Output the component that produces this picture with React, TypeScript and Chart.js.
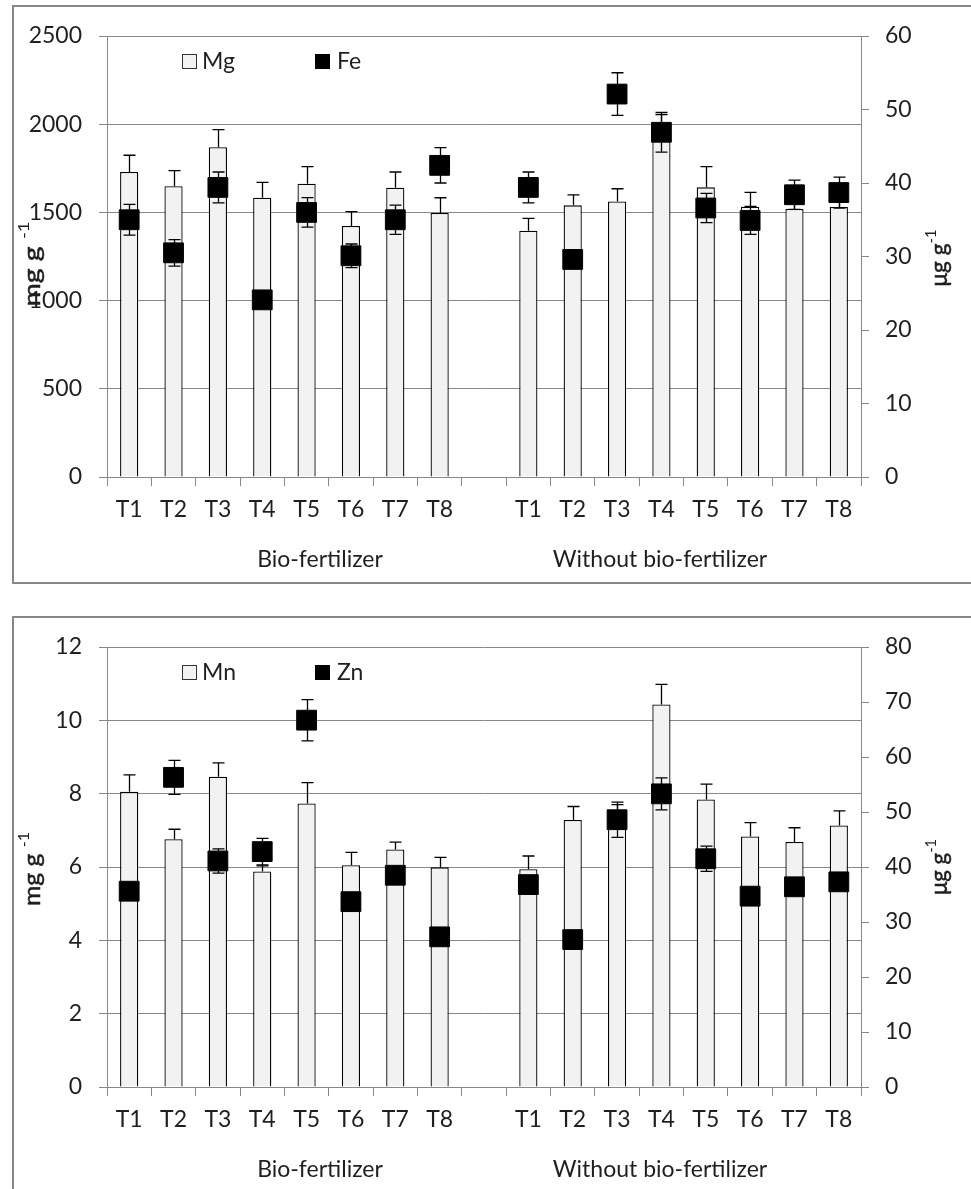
import React, { useEffect, useRef } from "react";
import { Chart, registerables } from "chart.js";

Chart.register(...registerables);

// ---------- data ----------
const treatments = ["T1", "T2", "T3", "T4", "T5", "T6", "T7", "T8"];
const groupNames = ["Bio-fertilizer", "Without bio-fertilizer"];

const mgBio = [1729, 1648, 1869, 1583, 1663, 1423, 1640, 1497];
const mgBioErr = [95, 89, 100, 87, 97, 81, 89, 86];
const mgWithout = [1396, 1540, 1562, 1960, 1642, 1532, 1519, 1531];
const mgWithoutErr = [70, 59, 72, 95, 118, 82, 40, 35];

const feBio = [35.0, 30.5, 39.4, 24.1, 36.0, 30.1, 35.0, 42.4];
const feBioErr = [2.1, 1.8, 2.1, 0.8, 2.0, 1.6, 2.0, 2.4];
const feWithout = [39.4, 29.6, 52.1, 46.9, 36.6, 34.9, 38.4, 38.7];
const feWithoutErr = [2.1, 1.0, 2.9, 2.7, 2.0, 1.9, 2.0, 2.1];

const mnBio = [8.05, 6.76, 8.46, 5.88, 7.73, 6.05, 6.48, 5.99];
const mnBioErr = [0.46, 0.27, 0.38, 0.15, 0.57, 0.35, 0.2, 0.27];
const mnWithout = [5.94, 7.28, 7.2, 10.43, 7.84, 6.83, 6.68, 7.13];
const mnWithoutErr = [0.36, 0.37, 0.5, 0.55, 0.42, 0.38, 0.39, 0.4];

const znBio = [35.6, 56.3, 41.1, 42.8, 66.7, 33.7, 38.5, 27.3];
const znBioErr = [1.0, 3.1, 2.2, 2.4, 3.75, 1.0, 1.5, 1.0];
const znWithout = [36.8, 26.8, 48.6, 53.3, 41.5, 34.7, 36.4, 37.3];
const znWithoutErr = [1.0, 0.8, 3.2, 2.9, 2.3, 1.0, 1.0, 1.0];

const labels = [...treatments, "", ...treatments];
const join = (a: number[], b: number[]) => [...a, null, ...b];

// ---------- style ----------
const FONT = "Lato";
const TEXT = "#1f1f1f";
const GRID = "#888888";
const FONT_SIZE = 23;

type PanelProps = {
  top: number;
  height: number;
  padTop: number;
  xHeight: number;
  leftMax: number;
  leftStep: number;
  rightMax: number;
  rightStep: number;
  barName: string;
  ptName: string;
  barVals: (number | null)[];
  barErrs: (number | null)[];
  ptVals: (number | null)[];
  ptErrs: (number | null)[];
  leftTitle: { cy: number; len: number };
  rightTitle: { cy: number; len: number };
};

function drawErrors(chart: any, dsIndex: number, errs: (number | null)[], both: boolean) {
  const ctx = chart.ctx;
  const meta = chart.getDatasetMeta(dsIndex);
  const ds = chart.data.datasets[dsIndex];
  const yScale = chart.scales[meta.yAxisID];
  ctx.save();
  ctx.strokeStyle = "#000";
  ctx.lineWidth = 1.3;
  meta.data.forEach((el: any, i: number) => {
    const v = ds.data[i];
    const e = errs[i];
    if (v == null || e == null) return;
    const x = Math.round(el.x) + 0.5;
    const yTop = yScale.getPixelForValue(v + e);
    const yBot = both ? yScale.getPixelForValue(v - e) : yScale.getPixelForValue(v);
    const cap = 6;
    ctx.beginPath();
    ctx.moveTo(x, yTop);
    ctx.lineTo(x, yBot);
    ctx.moveTo(x - cap, yTop);
    ctx.lineTo(x + cap, yTop);
    if (both) {
      ctx.moveTo(x - cap, yBot);
      ctx.lineTo(x + cap, yBot);
    }
    ctx.stroke();
  });
  ctx.restore();
}

function drawRotTitle(ctx: CanvasRenderingContext2D, cx: number, cy: number, main: string, sup: string, len: number) {
  ctx.save();
  ctx.translate(cx, cy);
  ctx.rotate(-Math.PI / 2);
  const mainFont = `23px ${FONT}`;
  const supFont = `15px ${FONT}`;
  ctx.font = mainFont;
  const w1 = ctx.measureText(main).width;
  ctx.font = supFont;
  const w2 = ctx.measureText(sup).width;
  const sx = len / (w1 + w2);
  ctx.scale(sx, 1);
  const x0 = -(w1 + w2) / 2;
  ctx.fillStyle = TEXT;
  ctx.strokeStyle = TEXT;
  ctx.lineWidth = 0.5;
  ctx.textAlign = "left";
  ctx.textBaseline = "middle";
  ctx.font = mainFont;
  ctx.fillText(main, x0, 0);
  ctx.strokeText(main, x0, 0);
  ctx.font = supFont;
  ctx.fillText(sup, x0 + w1, -9);
  ctx.restore();
}

function Panel(p: PanelProps) {
  const ref = useRef<HTMLCanvasElement>(null);
  useEffect(() => {
    const canvas = ref.current!;
    const font = { family: FONT, size: FONT_SIZE };
    const plain = (v: any) => String(v);
    const extras = {
      id: "extras",
      beforeDatasetDraw(chart: any, args: any) {
        if (args.index === 1) drawErrors(chart, 1, p.ptErrs, true);
      },
      afterDatasetDraw(chart: any, args: any) {
        if (args.index === 0) drawErrors(chart, 0, p.barErrs, false);
      },
      afterDraw(chart: any) {
        const ctx = chart.ctx as CanvasRenderingContext2D;
        const area = chart.chartArea;
        // legend
        const ly = area.top + 25;
        ctx.save();
        ctx.lineWidth = 1;
        ctx.fillStyle = "#f2f2f2";
        ctx.strokeStyle = "#333";
        ctx.fillRect(182, ly - 7, 14, 14);
        ctx.strokeRect(182.5, ly - 6.5, 14, 14);
        ctx.fillStyle = "#000";
        ctx.fillRect(315, ly - 7, 15, 15);
        ctx.fillStyle = TEXT;
        ctx.font = `${FONT_SIZE}px ${FONT}`;
        ctx.textAlign = "left";
        ctx.textBaseline = "middle";
        ctx.fillText(p.barName, 202, ly + 1);
        ctx.fillText(p.ptName, 337, ly + 1);
        // group labels
        ctx.textAlign = "center";
        ctx.fillText(groupNames[0], 320, area.bottom + 83);
        ctx.fillText(groupNames[1], 660, area.bottom + 83);
        ctx.restore();
        // axis titles
        drawRotTitle(ctx, 33, p.leftTitle.cy - p.top, "mg g ", "-1", p.leftTitle.len);
        drawRotTitle(ctx, 940, p.rightTitle.cy - p.top, "\u03bcg g", "-1", p.rightTitle.len);
      },
    };
    const chart = new Chart(canvas, {
      type: "bar",
      data: {
        labels,
        datasets: [
          {
            type: "bar",
            label: p.barName,
            data: p.barVals,
            yAxisID: "y",
            backgroundColor: "#f2f2f2",
            borderColor: "#000",
            borderWidth: 1.3,
            barPercentage: 0.41,
            categoryPercentage: 1,
            order: 2,
          } as any,
          {
            type: "line",
            label: p.ptName,
            data: p.ptVals,
            yAxisID: "y1",
            showLine: false,
            pointStyle: "rect",
            pointRadius: 14,
            pointHoverRadius: 14,
            pointBackgroundColor: "#000",
            pointBorderColor: "#000",
            pointBorderWidth: 1,
            order: 1,
          } as any,
        ],
      },
      options: {
        animation: false,
        responsive: false,
        maintainAspectRatio: false,
        devicePixelRatio: 1,
        layout: { padding: { top: p.padTop, left: 0, right: 0, bottom: 0 } },
        plugins: { legend: { display: false }, tooltip: { enabled: false } },
        scales: {
          x: {
            type: "category",
            offset: true,
            grid: { offset: true, drawOnChartArea: false, drawTicks: true, tickLength: 9, color: GRID },
            border: { color: GRID },
            ticks: { font, color: TEXT, padding: 10, maxRotation: 0, autoSkip: false },
            afterFit: (s: any) => {
              s.height = p.xHeight;
            },
          },
          y: {
            position: "left",
            min: 0,
            max: p.leftMax,
            ticks: { stepSize: p.leftStep, font, color: TEXT, padding: 17, callback: plain },
            grid: { color: GRID, tickLength: 8 },
            border: { color: GRID },
            afterFit: (s: any) => {
              s.width = 107;
            },
          },
          y1: {
            position: "right",
            min: 0,
            max: p.rightMax,
            ticks: { stepSize: p.rightStep, font, color: TEXT, padding: 16, callback: plain },
            grid: { drawOnChartArea: false, color: GRID, tickLength: 8 },
            border: { color: GRID },
            afterFit: (s: any) => {
              s.width = 110;
            },
          },
        },
      } as any,
      plugins: [extras],
    });
    return () => chart.destroy();
  }, []);
  return (
    <canvas
      ref={ref}
      width={971}
      height={p.height}
      style={{ position: "absolute", left: 0, top: p.top, width: 971, height: p.height, display: "block" }}
    />
  );
}

export default function App() {
  return (
    <div
      style={{
        position: "absolute",
        left: 0,
        top: 0,
        width: 971,
        height: 1189,
        overflow: "hidden",
        background: "#fff",
      }}
    >
      <Panel
        top={0}
        height={590}
        padTop={36}
        xHeight={113}
        leftMax={2500}
        leftStep={500}
        rightMax={60}
        rightStep={10}
        barName="Mg"
        ptName="Fe"
        barVals={join(mgBio, mgWithout)}
        barErrs={join(mgBioErr, mgWithoutErr)}
        ptVals={join(feBio, feWithout)}
        ptErrs={join(feBioErr, feWithoutErr)}
        leftTitle={{ cy: 264, len: 85 }}
        rightTitle={{ cy: 258, len: 57 }}
      />
      <Panel
        top={600}
        height={589}
        padTop={47}
        xHeight={102}
        leftMax={12}
        leftStep={2}
        rightMax={80}
        rightStep={10}
        barName="Mn"
        ptName="Zn"
        barVals={join(mnBio, mnWithout)}
        barErrs={join(mnBioErr, mnWithoutErr)}
        ptVals={join(znBio, znWithout)}
        ptErrs={join(znBioErr, znWithoutErr)}
        leftTitle={{ cy: 869, len: 74 }}
        rightTitle={{ cy: 867, len: 56 }}
      />
      <div
        style={{
          position: "absolute",
          left: 12,
          top: 5,
          width: 1000,
          height: 579,
          border: "2px solid #878787",
          boxSizing: "border-box",
          pointerEvents: "none",
        }}
      />
      <div
        style={{
          position: "absolute",
          left: 12,
          top: 616,
          width: 1000,
          height: 1000,
          border: "2px solid #878787",
          boxSizing: "border-box",
          pointerEvents: "none",
        }}
      />
    </div>
  );
}
